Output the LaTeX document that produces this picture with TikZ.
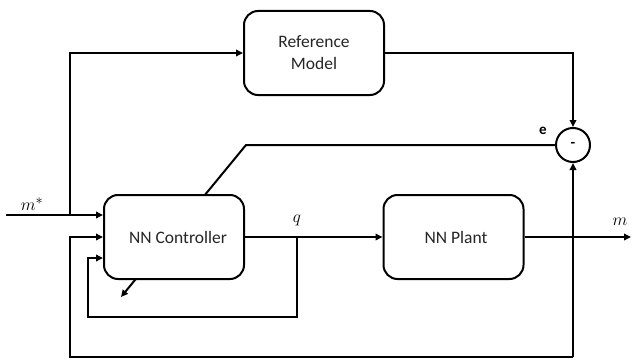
\documentclass[tikz,border=0pt]{standalone}
\usepackage{fontspec}
\setmainfont{Carlito}
\usetikzlibrary{arrows.meta}
\begin{document}
\begin{tikzpicture}[x=1pt,y=-1pt, line width=2pt,
  blk/.style={draw, rounded corners=14pt, minimum width=140pt, minimum height=84pt, fill=white,
    font=\fontsize{17.5}{21}\selectfont, text=black!85, align=center, inner sep=0pt},
  arr/.style={-{Triangle[length=7pt,width=6.5pt]}},
  lbl/.style={font=\fontsize{19}{22}\selectfont, inner sep=0pt}]
\useasboundingbox (0,0) rectangle (632,361);
% blocks
\node[blk] (ref) at (314,53) {Reference\\[1pt]Model};
\node[draw, circle, minimum size=34pt, inner sep=0pt, font=\fontsize{15}{18}\selectfont\bfseries] (sum) at (573,145) {-};
% error / adaptation line (goes through controller)
\coordinate (eturn) at (246,145);
\coordinate (adj) at (121,297);
\draw[arr] (sum.west) -- (eturn) -- (adj);
\node[blk] (ctrl) at (174,237) {\hspace*{8pt}NN Controller};
\node[blk] (plant) at (453.5,237) {\hspace*{5pt}NN Plant};
% reference input
\coordinate (min) at (6,215);
\coordinate (b1) at (70,215);
\draw[arr] (min) -- (ctrl.west |- min);
\draw[arr] (b1) |- (ref.west);
\draw[arr] (ref.east) -| (sum.north);
% q
\draw[arr] (ctrl.east) -- (plant.west);
% output
\coordinate (mout) at (631,237);
\draw[arr] (plant.east) -- (mout);
% output feedback
\coordinate (br) at (573,357);
\coordinate (bl) at (70,357);
\draw[arr] (br) -- (sum.south);
\draw[arr] (br) -- (bl) |- (ctrl.west);
% q feedback
\coordinate (qb) at (297,237);
\coordinate (qbot) at (297,317);
\coordinate (ll) at (88,317);
\coordinate (lt) at (88,258);
\draw[arr] (qb) -- (qbot) -- (ll) -- (lt) -- (lt -| ctrl.west);
% labels
\node[lbl] (lm) at (32,204) {$m^{*}$};
\node[lbl] (lq) at (297,220) {$q$};
\node[lbl] (lmo) at (620,222) {$m$};
\node[lbl, font=\fontsize{15}{18}\selectfont\bfseries] (le) at (543,131) {e};
\end{tikzpicture}
\end{document}
